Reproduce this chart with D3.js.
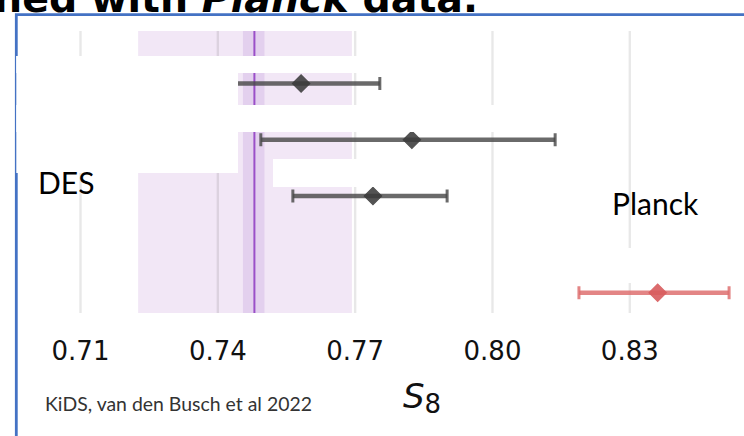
<!DOCTYPE html>
<html>
<head>
<meta charset="utf-8">
<script src="https://cdn.jsdelivr.net/npm/d3@7"></script>
<style>
  html, body { margin: 0; padding: 0; background: #fff; }
  svg { display: block; }
</style>
</head>
<body>
<svg id="chart" width="744" height="436"></svg>
<script>
// S8 constraints: survey estimates with 68% intervals, KiDS band behind them
const tickValues = [0.71, 0.74, 0.77, 0.80, 0.83];
const rowPos     = [1, 2, 3, 4.72];
const s8Mean     = [0.7583, 0.7825, 0.7740, 0.8362];
const s8Lo       = [0.7410, 0.7495, 0.7565, 0.8190];
const s8Hi       = [0.7755, 0.8138, 0.7902, 0.8518];
const rowKind    = ["survey", "survey", "survey", "cmb"];
const kidsMean   = 0.7481;
const kidsInner  = [0.7456, 0.7503];
const kidsOuter  = [0.7227, 0.7694];
const labels     = ["DES", "Planck"];

const svg = d3.select("#chart");
const W = 744, H = 436;
const plotTop = 31, plotBottom = 313;

const x = d3.scaleLinear().domain([0.71, 0.83]).range([80, 629.3]);
const y = d3.scaleLinear().domain([1, 3]).range([83.5, 196]);

const colors = {
  survey: { bar: "#4a4a4a", fill: "#3a3a3a" },
  cmb:    { bar: "#df7070", fill: "#d85c5e" }
};

// KiDS band
svg.append("rect")
  .attr("x", x(kidsOuter[0])).attr("y", plotTop)
  .attr("width", x(kidsOuter[1]) - x(kidsOuter[0]))
  .attr("height", plotBottom - plotTop)
  .attr("fill", "#f2e7f6");
svg.append("rect")
  .attr("x", x(kidsInner[0])).attr("y", plotTop)
  .attr("width", x(kidsInner[1]) - x(kidsInner[0]))
  .attr("height", plotBottom - plotTop)
  .attr("fill", "#e3d0ee");

// vertical grid from the axis ticks
const axis = d3.axisBottom(x).tickValues(tickValues)
  .tickSize(-(plotBottom - plotTop)).tickFormat(d3.format(".2f"));
const gAxis = svg.append("g").attr("transform", `translate(0,${plotBottom})`).call(axis);
gAxis.select(".domain").remove();
gAxis.selectAll(".tick line").attr("stroke", "rgba(0,0,0,0.09)").attr("stroke-width", 2.4);
gAxis.selectAll(".tick text")
  .attr("y", 47).attr("dy", 0)
  .attr("font-family", "DejaVu Sans").attr("font-size", 26).attr("fill", "#111");

// KiDS mean
svg.append("line")
  .attr("x1", x(kidsMean)).attr("x2", x(kidsMean))
  .attr("y1", plotTop).attr("y2", plotBottom)
  .attr("stroke", "#9a4fc8").attr("stroke-width", 2);

// error bars with diamond markers
const diamond = d3.symbol(d3.symbolSquare, 150)();
const g = svg.append("g");
d3.range(s8Mean.length).forEach(i => {
  const c = colors[rowKind[i]];
  const yy = y(rowPos[i]);
  const op = rowKind[i] === "cmb" ? 0.85 : 0.82;
  g.append("line")
    .attr("x1", x(s8Lo[i])).attr("x2", x(s8Hi[i]))
    .attr("y1", yy).attr("y2", yy)
    .attr("stroke", c.bar).attr("stroke-width", 4.5).attr("opacity", op);
  [s8Lo[i], s8Hi[i]].forEach(v => {
    g.append("line")
      .attr("x1", x(v)).attr("x2", x(v))
      .attr("y1", yy - 6.5).attr("y2", yy + 6.5)
      .attr("stroke", c.bar).attr("stroke-width", 3).attr("opacity", op);
  });
  g.append("path")
    .attr("d", diamond)
    .attr("transform", `translate(${x(s8Mean[i])},${yy}) rotate(45)`)
    .attr("fill", c.fill).attr("stroke", c.fill).attr("stroke-width", 1.2)
    .attr("opacity", op + 0.05);
});

// frame
svg.append("path")
  .attr("d", `M16.3,${H} V14.7 H${W}`)
  .attr("fill", "none").attr("stroke", "#4472c4").attr("stroke-width", 2.8);

// blank panels laid over the plot
const blanks = [
  [16.3, 56, 413, 73],
  [16.3, 56, 238, 173],
  [16.3, 105, 560, 132],
  [273, 159, 432, 187],
  [560, 248, 727, 283]
];
svg.append("g").selectAll("rect").data(blanks).join("rect")
  .attr("x", d => d[0]).attr("y", d => d[1])
  .attr("width", d => d[2] - d[0]).attr("height", d => d[3] - d[1])
  .attr("fill", "#fff");

// heading
const title = svg.append("text")
  .attr("x", 478).attr("y", 12).attr("text-anchor", "end")
  .attr("font-family", "DejaVu Sans").attr("font-weight", "bold")
  .attr("font-size", 39.5).attr("fill", "#000");
title.append("tspan").text("combined with ");
title.append("tspan").attr("font-style", "italic").text("Planck");
title.append("tspan").text(" data.");

// survey labels
svg.append("text").attr("x", 38).attr("y", 194)
  .attr("font-family", "Lato").attr("font-size", 30).attr("fill", "#000")
  .text(labels[0]);
svg.append("text").attr("x", 612).attr("y", 215)
  .attr("font-family", "Lato").attr("font-size", 30).attr("fill", "#000")
  .text(labels[1]);

// axis title S_8
const s8 = svg.append("text").attr("x", 403).attr("y", 408)
  .attr("font-family", "DejaVu Sans").attr("fill", "#111");
s8.append("tspan").attr("font-size", 34).attr("font-style", "italic").text("S");
s8.append("tspan").attr("font-size", 26).attr("dy", 5).text("8");

// source note
svg.append("text").attr("x", 45).attr("y", 411)
  .attr("font-family", "Lato").attr("font-size", 19).attr("fill", "#333")
  .attr("textLength", 267).attr("lengthAdjust", "spacingAndGlyphs")
  .text("KiDS, van den Busch et al 2022");
</script>
</body>
</html>
